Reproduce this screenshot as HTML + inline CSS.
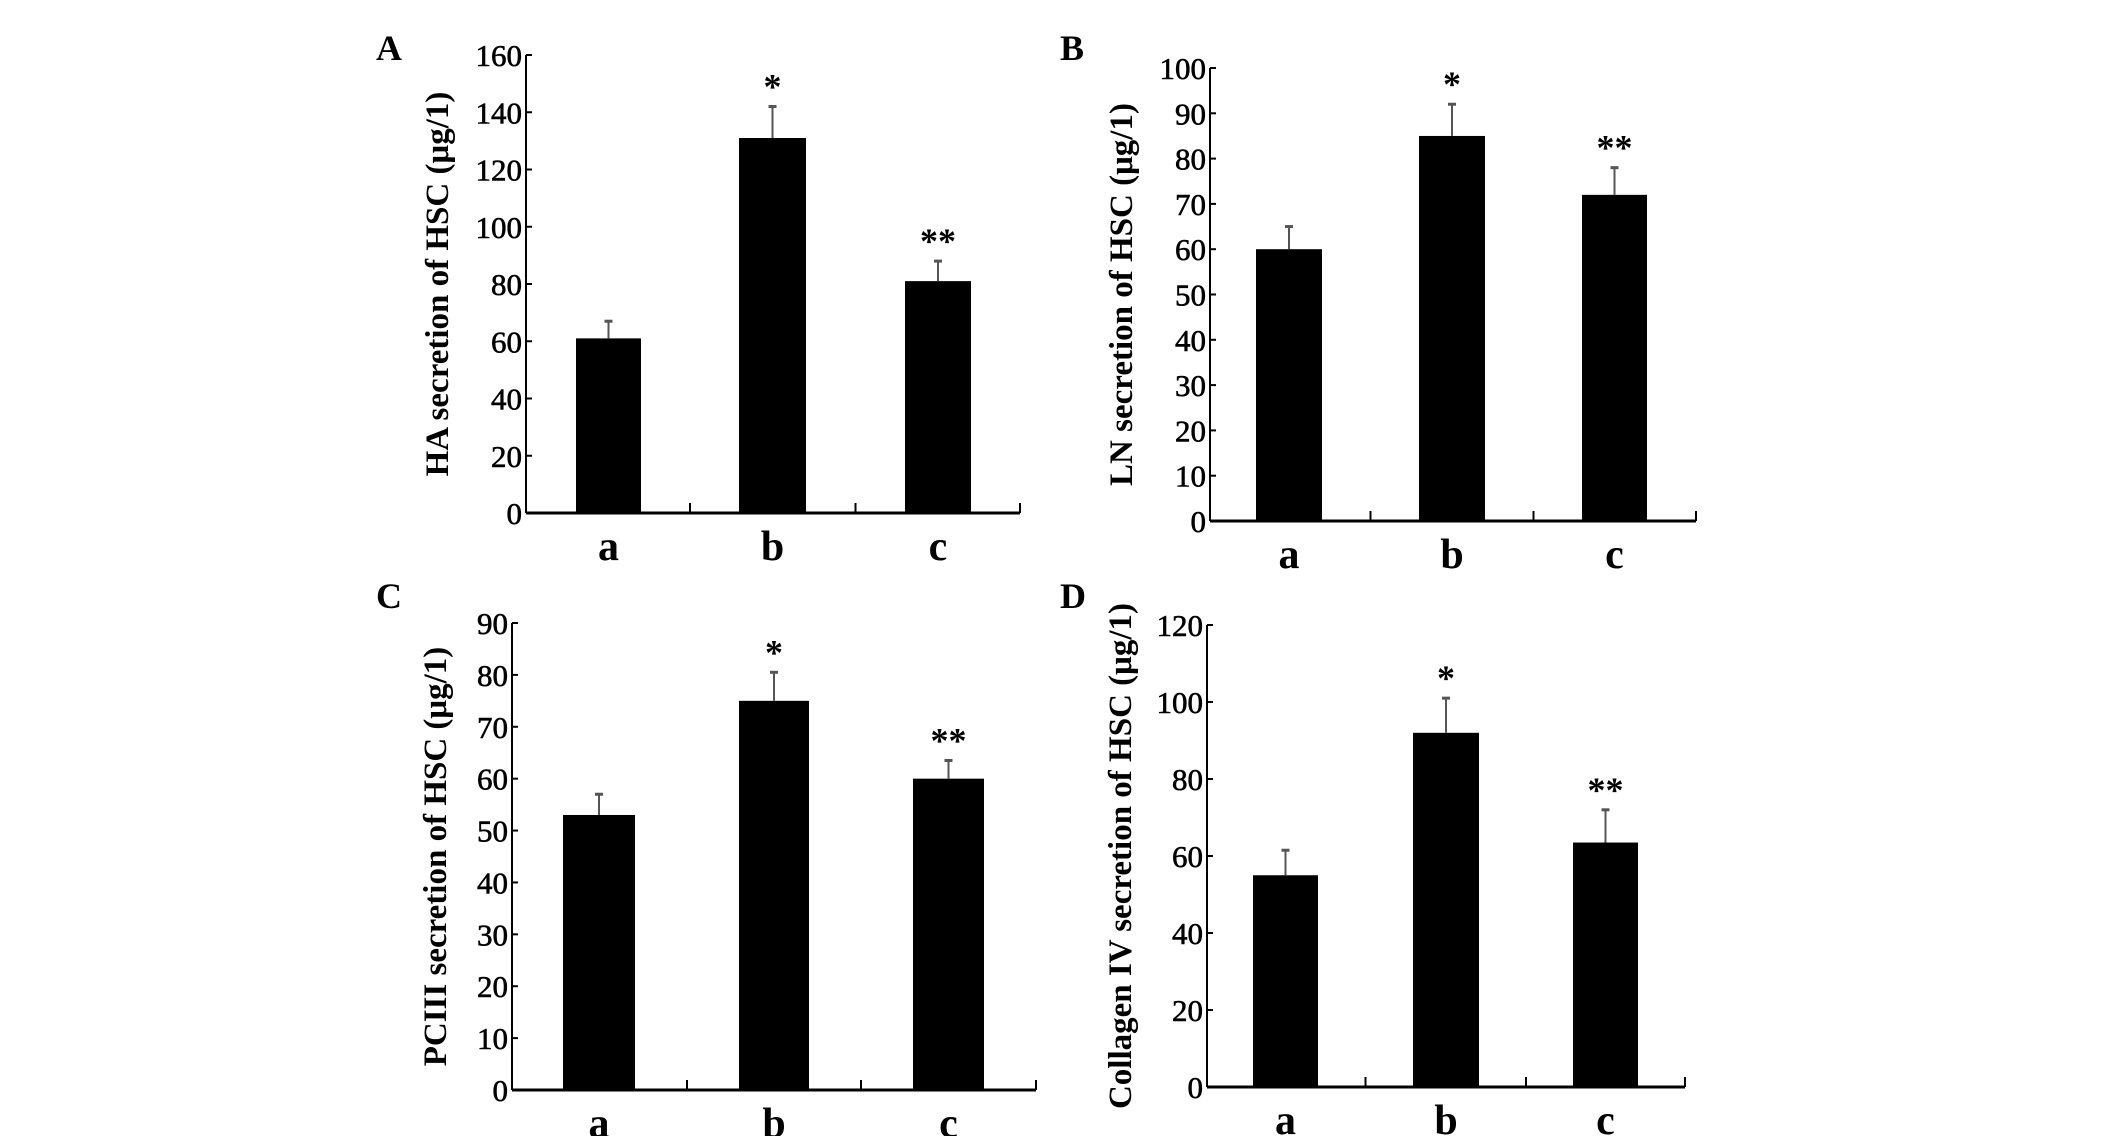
<!DOCTYPE html>
<html><head><meta charset="utf-8"><style>
html,body{margin:0;padding:0;background:#fff;}
svg{display:block;}
text{font-family:"Liberation Serif",serif;fill:#000;}
</style></head><body>
<svg id="fig" width="2126" height="1136" viewBox="0 0 2126 1136"></svg>
<script>
const categories = ["a","b","c"];
const haValues = [61,131,81];
const haErrors = [67,142,88];
const haTicks = [0,20,40,60,80,100,120,140,160];
const lnValues = [60,85,72];
const lnErrors = [65,92,78];
const lnTicks = [0,10,20,30,40,50,60,70,80,90,100];
const pcValues = [53,75,60];
const pcErrors = [57,80.5,63.5];
const pcTicks = [0,10,20,30,40,50,60,70,80,90];
const colValues = [55,92,63.5];
const colErrors = [61.5,101,72];
const colTicks = [0,20,40,60,80,100,120];
const marks = ["","*","**"];

const NS="http://www.w3.org/2000/svg";
const svg=document.getElementById('fig');
function mk(tag,attrs,parent){const e=document.createElementNS(NS,tag);for(const k in attrs)e.setAttribute(k,attrs[k]);(parent||svg).appendChild(e);return e;}

const panels=[
 {id:'A',title:'HA secretion of HSC (μg/1)',vals:haValues,errs:haErrors,ticks:haTicks,ax:526,y0:513,yTop:55,xEnd:1020,bars:[[576,641],[739,806],[905,971]],lx:376,ly:60,tx:448},
 {id:'B',title:'LN secretion of HSC (μg/1)',vals:lnValues,errs:lnErrors,ticks:lnTicks,ax:1210,y0:521,yTop:68,xEnd:1696,bars:[[1256,1322],[1419,1485],[1582,1647]],lx:1060,ly:60,tx:1132},
 {id:'C',title:'PCIII secretion of HSC (μg/1)',vals:pcValues,errs:pcErrors,ticks:pcTicks,ax:512,y0:1090,yTop:623,xEnd:1036,bars:[[563,635],[739,809],[913,984]],lx:376,ly:608,tx:446},
 {id:'D',title:'Collagen IV secretion of HSC (μg/1)',vals:colValues,errs:colErrors,ticks:colTicks,ax:1207,y0:1087,yTop:625,xEnd:1685,bars:[[1253,1318],[1413,1479],[1573,1638]],lx:1060,ly:608,tx:1131}
];

panels.forEach(p=>{
  const g=mk('g',{});
  
  
  const max=p.ticks[p.ticks.length-1];
  const ys=v=>p.y0-(v/max)*(p.y0-p.yTop);
  const lab=mk('text',{x:p.lx,y:p.ly,'font-size':36,'font-weight':'bold'},g);
  lab.textContent=p.id;
  
  
  const yax=mk('line',{x1:p.ax,y1:p.yTop,x2:p.ax,y2:p.y0,stroke:'#000','stroke-width':2},g);
  
  
  const xax=mk('line',{x1:p.ax,y1:p.y0,x2:p.xEnd,y2:p.y0,stroke:'#000','stroke-width':3},g);
  
  
  p.ticks.forEach(t=>{
    const y=ys(t);
    mk('line',{x1:p.ax,y1:y,x2:p.ax+6,y2:y,stroke:'#000','stroke-width':2},g);
    const tl=mk('text',{x:p.ax-4,y:y+11,'font-size':31,'text-anchor':'end','stroke':'#000','stroke-width':0.6},g);
    tl.textContent=t;
    
    
  });
  for(let i=0;i<2;i++){
    const xm=(p.bars[i][1]+p.bars[i+1][0])/2;
    mk('line',{x1:xm,y1:p.y0-10,x2:xm,y2:p.y0,stroke:'#000','stroke-width':2},g);
  }
  mk('line',{x1:p.xEnd,y1:p.y0-10,x2:p.xEnd,y2:p.y0,stroke:'#000','stroke-width':2},g);
  const tt=mk('text',{x:p.tx,y:(p.y0+p.yTop)/2,'font-size':33,'font-weight':'bold','text-anchor':'middle',transform:`rotate(-90 ${p.tx} ${(p.y0+p.yTop)/2})`},g);
  tt.textContent=p.title;
  
  
  categories.forEach((c,i)=>{
    const [x1,x2]=p.bars[i];
    const cx=(x1+x2)/2;
    const top=ys(p.vals[i]);
    const r=mk('rect',{x:x1,y:top,width:x2-x1,height:p.y0-top,fill:'#000'},g);
    
    
    const et=ys(p.errs[i]);
    const el=mk('line',{x1:cx,y1:top,x2:cx,y2:et,stroke:'#555','stroke-width':2},g);
    
    
    mk('line',{x1:cx-4,y1:et,x2:cx+4,y2:et,stroke:'#555','stroke-width':3},g);
    if(marks[i]){
      const m=mk('text',{x:cx,y:et-8,'font-size':36,'font-weight':'bold','text-anchor':'middle'},g);
      m.textContent=marks[i];
      
      
    }
    const cl=mk('text',{x:cx,y:p.y0+47,'font-size':42,'font-weight':'bold','text-anchor':'middle'},g);
    cl.textContent=c;
    
    
  });
});
</script>
</body></html>
